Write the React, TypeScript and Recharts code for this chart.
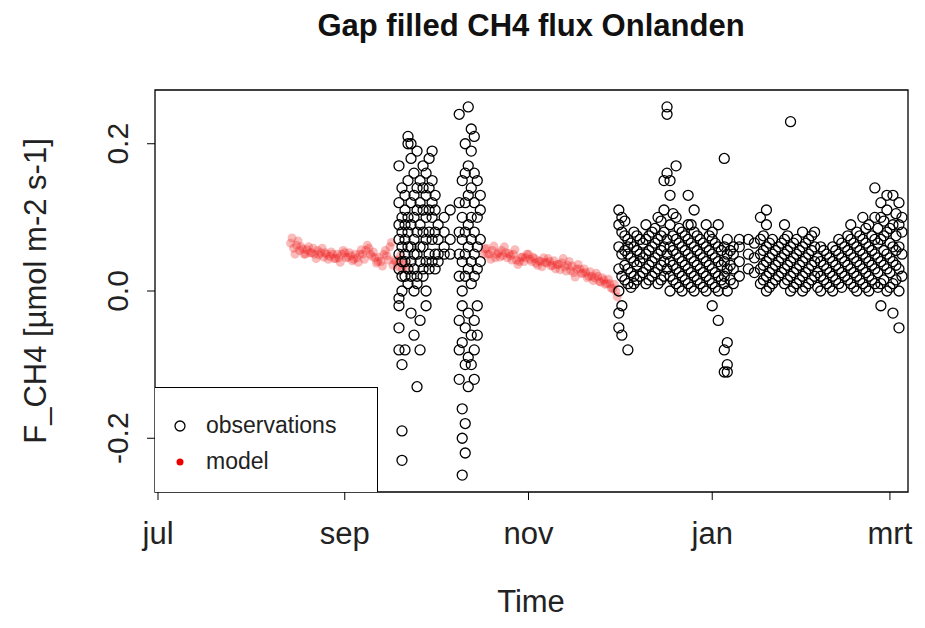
import React from "react";
import { ScatterChart, Scatter, XAxis, YAxis, ReferenceArea } from "recharts";

const monthTicks = [0, 62, 123, 184, 243];
const monthLabels = ["jul", "sep", "nov", "jan", "mrt"];
const yTicks = [-0.2, 0, 0.2];
const yLabels = ["-0.2", "0.0", "0.2"];

const modelDays = [44,45,46,47,48,49,50,51,52,53,54,55,56,57,58,59,60,61,62,63,64,65,66,67,68,69,70,71,72,73,74,75,76,77,78,79,80,81,82,108,109,110,111,112,113,114,115,116,117,118,119,120,121,122,123,124,125,126,127,128,129,130,131,132,133,134,135,136,137,138,139,140,141,142,143,144,145,146,147,148,149,150,151,152];
const modelVals = [0.065,0.058,0.062,0.055,0.057,0.05,0.06,0.052,0.05,0.055,0.052,0.046,0.05,0.047,0.05,0.044,0.045,0.05,0.052,0.046,0.048,0.043,0.045,0.05,0.05,0.055,0.058,0.047,0.045,0.04,0.04,0.05,0.048,0.06,0.035,0.04,0.042,0.03,0.038,0.05,0.058,0.05,0.055,0.045,0.052,0.055,0.06,0.045,0.048,0.05,0.042,0.04,0.046,0.045,0.05,0.04,0.044,0.035,0.04,0.045,0.038,0.04,0.035,0.03,0.036,0.038,0.033,0.035,0.028,0.025,0.03,0.03,0.024,0.025,0.02,0.02,0.018,0.02,0.012,0.015,0.01,0.01,0.003,0.0];
const modelVals2 = [0.072,0.05,0.068,0.06,0.05,0.056,0.052,0.058,0.044,0.049,0.058,0.052,0.043,0.053,0.044,0.05,0.039,0.055,0.045,0.052,0.041,0.05,0.039,0.056,0.043,0.062,0.05,0.053,0.038,0.046,0.034,0.055,0.042,0.066,0.042,0.033,0.048,0.036,0.03,0.057,0.05,0.043,0.061,0.05,0.046,0.048,0.052,0.051,0.042,0.056,0.036,0.046,0.04,0.05,0.043,0.046,0.038,0.041,0.033,0.039,0.044,0.034,0.041,0.036,0.029,0.044,0.027,0.04,0.034,0.019,0.036,0.024,0.03,0.018,0.026,0.014,0.024,0.013,0.018,0.009,0.016,0.004,0.009,-0.008];

const obsGroups: [number, number[]][] = [
  [80,[-0.02,-0.01,0.03,0.05,0.07,0.09,0.12,0.17,-0.05,-0.08]],
  [81,[0.0,0.04,0.06,0.08,0.1,0.14,-0.1,-0.19,-0.23,0.02]],
  [82,[0.02,0.05,0.07,0.09,0.11,0.13,0.04,-0.08]],
  [83,[0.03,0.06,0.08,0.1,0.15,0.2,0.21,0.01]],
  [84,[0.04,0.06,0.09,0.12,0.18,0.2,-0.03,0.02]],
  [85,[0.03,0.05,0.07,0.1,0.13,0.16,0.0,-0.06]],
  [86,[0.02,0.05,0.08,0.11,0.14,0.19,-0.13,0.01]],
  [87,[0.04,0.06,0.09,0.12,0.15,-0.04,-0.08]],
  [88,[0.03,0.06,0.08,0.11,0.14,0.17,0.02]],
  [89,[0.04,0.07,0.1,0.13,0.16,0.0,-0.02]],
  [90,[0.05,0.08,0.11,0.14,0.18,0.03]],
  [91,[0.04,0.07,0.1,0.12,0.15,0.19]],
  [92,[0.03,0.05,0.08,0.11,0.13]],
  [93,[0.05,0.07,0.09,0.04]],
  [95,[0.06,0.08,0.05,0.1]],
  [97,[0.07,0.05,0.11]],
  [100,[0.02,0.05,0.08,0.12,0.24,-0.04,-0.08,-0.12]],
  [101,[0.0,0.04,0.07,0.1,0.15,-0.02,-0.07,-0.16,-0.2,-0.25]],
  [102,[0.02,0.05,0.08,0.12,0.16,0.2,-0.05,-0.1,-0.18,-0.22]],
  [103,[0.03,0.06,0.09,0.13,0.17,0.25,-0.03,-0.09,-0.13]],
  [104,[0.01,0.04,0.07,0.1,0.14,0.19,0.22,-0.06,-0.1]],
  [105,[0.02,0.05,0.08,0.12,0.16,0.21,-0.04,-0.08,-0.12]],
  [106,[0.03,0.06,0.1,0.15,-0.02,-0.06]],
  [107,[0.04,0.07,0.11,0.13]],
  [153,[-0.05,0.0,0.03,0.06,0.09,0.11,-0.03]],
  [154,[-0.02,0.02,0.05,0.08,0.1,-0.06]],
  [156,[0.01,0.03,0.05,0.07,-0.08,0.06]],
  [158,[0.02,0.04,0.06,0.08,0.01]],
  [160,[0.02,0.04,0.07,0.05]],
  [162,[0.01,0.03,0.05,0.07,0.09]],
  [164,[0.02,0.04,0.06,0.08]],
  [166,[0.01,0.03,0.05,0.07,0.1]],
  [168,[0.02,0.04,0.06,0.08,0.15,0.11]],
  [169,[0.03,0.05,0.07,0.16,0.25,0.24]],
  [170,[0.0,0.02,0.04,0.06,0.09,0.13,0.15]],
  [172,[0.01,0.03,0.05,0.07,0.1,0.17]],
  [174,[0.0,0.02,0.04,0.06,0.08]],
  [176,[0.01,0.03,0.05,0.07,0.09,0.13]],
  [178,[0.0,0.02,0.04,0.06,0.08,0.11]],
  [180,[0.01,0.03,0.05,0.07]],
  [182,[0.0,0.02,0.04,0.06,0.09]],
  [184,[0.01,0.03,0.05,0.07,0.08,-0.02]],
  [186,[0.0,0.02,0.04,0.06,0.09,-0.04]],
  [188,[0.01,0.02,0.04,0.06,-0.11,-0.08,0.18]],
  [189,[0.0,0.03,0.05,0.07,-0.1,-0.07,-0.11]],
  [191,[0.01,0.03,0.05,0.06]],
  [193,[0.02,0.04,0.06,0.07]],
  [196,[0.03,0.05,0.07]],
  [200,[0.01,0.03,0.05,0.07,0.1]],
  [202,[0.0,0.02,0.04,0.06,0.09,0.11]],
  [204,[0.01,0.03,0.05,0.07]],
  [206,[0.02,0.04,0.06]],
  [208,[0.01,0.03,0.05,0.07,0.09]],
  [210,[0.0,0.02,0.04,0.06,0.23]],
  [212,[0.01,0.03,0.05,0.07]],
  [214,[0.0,0.02,0.04,0.06,0.08]],
  [216,[0.01,0.03,0.05,0.07]],
  [218,[0.02,0.04,0.06,0.08]],
  [220,[0.0,0.02,0.04,0.06]],
  [222,[0.01,0.03,0.05]],
  [224,[0.0,0.02,0.04,0.06]],
  [226,[0.01,0.03,0.05,0.07]],
  [228,[0.02,0.04,0.06]],
  [230,[0.01,0.03,0.05,0.07,0.09]],
  [232,[0.0,0.02,0.04,0.06,0.08]],
  [234,[0.01,0.03,0.05,0.07,0.1]],
  [236,[0.0,0.02,0.04,0.06,0.09]],
  [238,[0.01,0.03,0.05,0.07,0.1,0.14]],
  [240,[-0.02,0.01,0.04,0.07,0.1,0.12]],
  [242,[0.0,0.03,0.05,0.08,0.11,0.13]],
  [244,[-0.03,0.01,0.04,0.06,0.09,0.13]],
  [246,[-0.05,0.0,0.03,0.06,0.09,0.12]],
  [247,[0.02,0.05,0.08,0.1]],
  [155,[0.015,0.035,0.055,0.075,0.095]],
  [157,[0.025,0.045,0.065,0.005]],
  [159,[0.015,0.035,0.055,0.075]],
  [161,[0.025,0.045,0.065]],
  [163,[0.015,0.035,0.055,0.075]],
  [165,[0.025,0.045,0.065,0.085]],
  [167,[0.015,0.035,0.055,0.075,0.095]],
  [171,[0.015,0.035,0.055,0.075,0.105]],
  [173,[0.005,0.025,0.045,0.065,0.085]],
  [175,[0.015,0.035,0.055,0.075]],
  [177,[0.005,0.025,0.045,0.065,0.09]],
  [179,[0.015,0.035,0.055,0.075]],
  [181,[0.005,0.025,0.045,0.065]],
  [183,[0.015,0.035,0.055,0.075]],
  [185,[0.005,0.025,0.045,0.065]],
  [187,[0.015,0.035,0.055]],
  [190,[0.015,0.035,0.055]],
  [198,[0.025,0.045,0.065]],
  [201,[0.015,0.035,0.055,0.075]],
  [203,[0.005,0.025,0.045,0.065]],
  [205,[0.015,0.035,0.055]],
  [207,[0.025,0.045,0.065]],
  [209,[0.015,0.035,0.055,0.075]],
  [211,[0.005,0.025,0.045,0.065]],
  [213,[0.015,0.035,0.055]],
  [215,[0.005,0.025,0.045,0.065]],
  [217,[0.015,0.035,0.055,0.075]],
  [219,[0.005,0.025,0.045]],
  [221,[0.015,0.035,0.055]],
  [223,[0.005,0.025,0.045]],
  [225,[0.015,0.035,0.055]],
  [227,[0.005,0.025,0.045,0.065]],
  [229,[0.015,0.035,0.055,0.075]],
  [231,[0.005,0.025,0.045,0.065]],
  [233,[0.015,0.035,0.055,0.075]],
  [235,[0.005,0.025,0.045,0.065,0.085]],
  [237,[0.015,0.035,0.055,0.075]],
  [239,[0.005,0.025,0.045,0.065,0.085]],
  [241,[0.015,0.035,0.055,0.075,0.095]],
  [243,[0.005,0.025,0.045,0.065,0.085]],
  [245,[0.015,0.035,0.055,0.075,0.105]],
];

const obsData = obsGroups.flatMap(([d, vs]) => vs.map((v) => ({ x: d, y: v })));
const modelData = [
  ...modelDays.map((d, i) => ({ x: d, y: modelVals[i] })),
  ...modelDays.map((d, i) => ({ x: d + 0.5, y: modelVals2[i] })),
];

const FONT = "'Liberation Sans', Arial, sans-serif";

const ObsShape = (p: any) => (
  <circle cx={p.cx} cy={p.cy} r={5} fill="none" stroke="#000" strokeWidth={1.3} />
);
const ModelShape = (p: any) => (
  <circle cx={p.cx} cy={p.cy} r={4.5} fill="rgba(240,30,30,0.3)" />
);

const XTick = (p: any) => (
  <text x={p.x} y={p.y + 42} textAnchor="middle" fontSize={31} fill="#222" fontFamily={FONT}>
    {monthLabels[monthTicks.indexOf(p.payload.value)]}
  </text>
);
const YTick = (p: any) => (
  <text x={128} y={p.y} transform={`rotate(-90 128 ${p.y})`} textAnchor="middle" fontSize={30} fill="#222" fontFamily={FONT}>
    {yLabels[yTicks.indexOf(p.payload.value)]}
  </text>
);

export default function App() {
  return (
    <div style={{ position: "absolute", left: 0, top: 0, width: 925, height: 628, background: "#fff", fontFamily: FONT }}>
      <ScatterChart width={925} height={628} margin={{ top: 90, right: 17, bottom: 0, left: 0 }}>
        <XAxis type="number" dataKey="x" domain={[-1, 249]} ticks={monthTicks} tick={<XTick />} axisLine={false} tickLine={{ stroke: "#000" }} tickSize={8} height={136} allowDataOverflow />
        <YAxis type="number" dataKey="y" domain={[-0.273, 0.273]} ticks={yTicks} tick={<YTick />} axisLine={false} tickLine={{ stroke: "#000" }} tickSize={8} width={155} allowDataOverflow />
        <ReferenceArea x1={-1} x2={249} y1={-0.273} y2={0.273} fill="none" stroke="#000" strokeWidth={1.3} ifOverflow="visible" />
        <Scatter data={modelData} shape={<ModelShape />} isAnimationActive={false} />
        <Scatter data={obsData} shape={<ObsShape />} isAnimationActive={false} />
      </ScatterChart>
      <div style={{ position: "absolute", left: 0, width: 1062, top: 8, textAlign: "center", fontSize: 31, fontWeight: "bold", color: "#111" }}>Gap filled CH4 flux Onlanden</div>
      <div style={{ position: "absolute", left: 0, width: 1062, top: 584, textAlign: "center", fontSize: 31, color: "#222" }}>Time</div>
      <div style={{ position: "absolute", left: 36, top: 291, transform: "translate(-50%,-50%) rotate(-90deg)", whiteSpace: "nowrap", fontSize: 31, color: "#222" }}>F_CH4 [µmol m-2 s-1]</div>
      <div style={{ position: "absolute", left: 155, top: 387, width: 222, height: 104, border: "1.3px solid #000", borderLeft: "none", borderBottom: "none", background: "#fff" }}>
        <svg width={30} height={100} style={{ position: "absolute", left: 10, top: 0 }}>
          <circle cx={15} cy={38} r={5} fill="none" stroke="#000" strokeWidth={1.3} />
          <circle cx={15} cy={74} r={3.5} fill="#e00" />
        </svg>
        <div style={{ position: "absolute", left: 51, top: 24, fontSize: 23, color: "#222" }}>observations</div>
        <div style={{ position: "absolute", left: 51, top: 60, fontSize: 23, color: "#222" }}>model</div>
      </div>
    </div>
  );
}
